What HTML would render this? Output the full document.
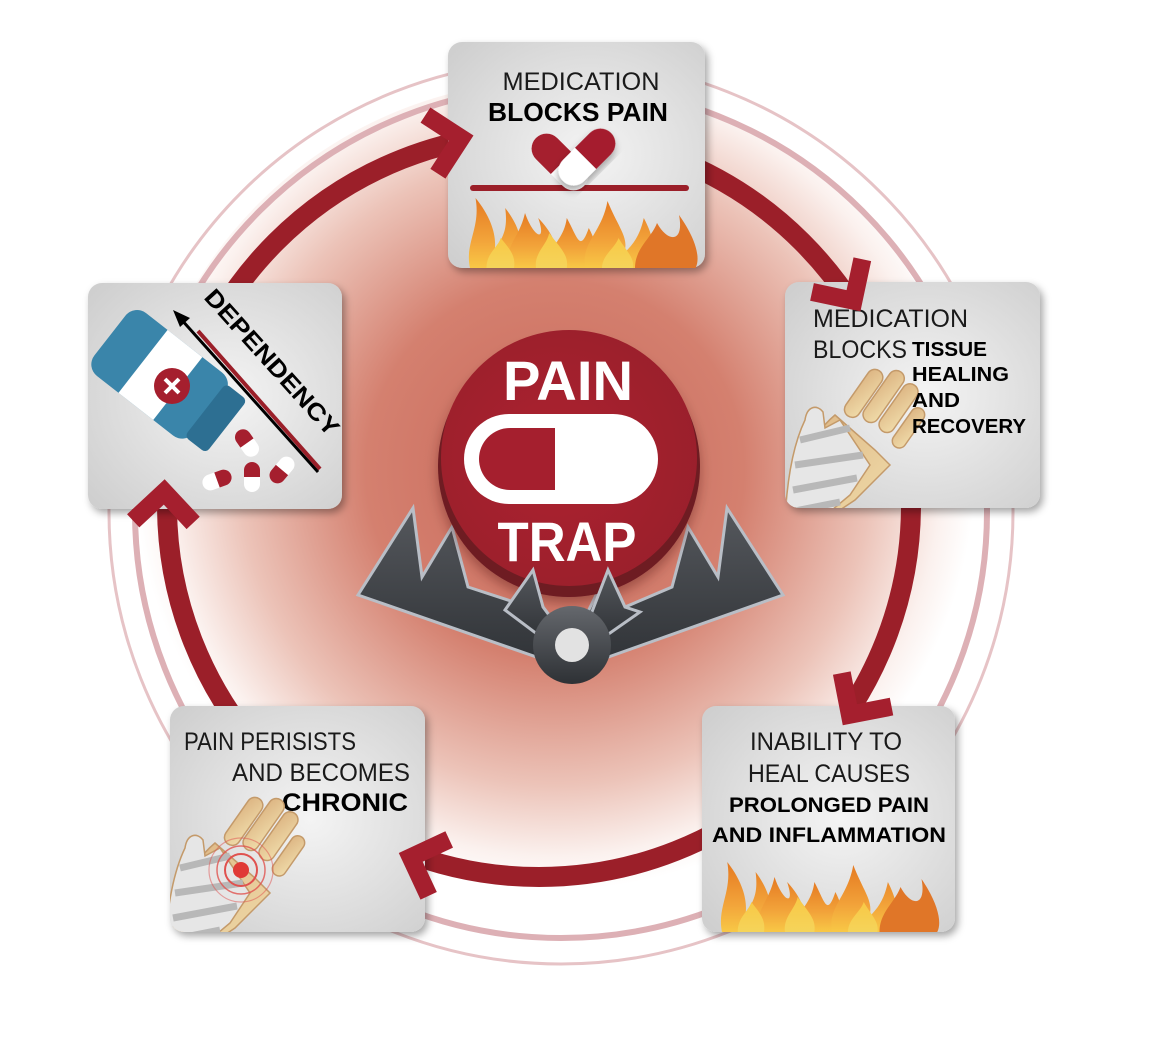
<!DOCTYPE html>
<html><head><meta charset="utf-8">
<style>
html,body{margin:0;padding:0;background:#fff;}
svg{display:block;}
text{font-family:"Liberation Sans",sans-serif;}
</style></head>
<body>
<svg width="1154" height="1048" viewBox="0 0 1154 1048" xmlns="http://www.w3.org/2000/svg">
<defs>
  <radialGradient id="glow" cx="555" cy="470" r="420" gradientUnits="userSpaceOnUse">
    <stop offset="0" stop-color="#c9685a"/>
    <stop offset="0.45" stop-color="#d4806f"/>
    <stop offset="0.75" stop-color="#ecc3b8"/>
    <stop offset="0.92" stop-color="#fbf1ee"/>
    <stop offset="1" stop-color="#ffffff"/>
  </radialGradient>
  <radialGradient id="boxg" cx="0.55" cy="0.5" r="0.7">
    <stop offset="0" stop-color="#f4f4f4"/>
    <stop offset="1" stop-color="#cfcfcf"/>
  </radialGradient>
  <radialGradient id="btn" cx="0.45" cy="0.5" r="0.6">
    <stop offset="0" stop-color="#ad2230"/>
    <stop offset="1" stop-color="#991f2b"/>
  </radialGradient>
  <linearGradient id="trapg" x1="0" y1="0" x2="0" y2="1">
    <stop offset="0" stop-color="#55585d"/>
    <stop offset="1" stop-color="#2f3236"/>
  </linearGradient>
  <linearGradient id="knob" x1="0" y1="0" x2="0" y2="1">
    <stop offset="0" stop-color="#65686d"/>
    <stop offset="1" stop-color="#2e3135"/>
  </linearGradient>
  <linearGradient id="fire" x1="0" y1="0" x2="0" y2="1">
    <stop offset="0" stop-color="#e57a22"/>
    <stop offset="0.6" stop-color="#f2a33a"/>
    <stop offset="1" stop-color="#f8c846"/>
  </linearGradient>
  <linearGradient id="fire2" x1="0" y1="0" x2="0" y2="1">
    <stop offset="0" stop-color="#f8c846"/>
    <stop offset="1" stop-color="#f5d45a"/>
  </linearGradient>
  <linearGradient id="skin" x1="0" y1="0" x2="1" y2="1">
    <stop offset="0" stop-color="#dcb482"/>
    <stop offset="1" stop-color="#f0dcaa"/>
  </linearGradient>
  <filter id="sh" x="-20%" y="-20%" width="140%" height="140%">
    <feDropShadow dx="3" dy="4" stdDeviation="4" flood-color="#000" flood-opacity="0.35"/>
  </filter>
  <filter id="sh2" x="-20%" y="-20%" width="140%" height="140%">
    <feDropShadow dx="0" dy="6" stdDeviation="6" flood-color="#3a0000" flood-opacity="0.35"/>
  </filter>
  <clipPath id="c2"><rect x="785" y="282" width="255" height="226" rx="14"/></clipPath>
  <clipPath id="c4"><rect x="170" y="706" width="255" height="226" rx="14"/></clipPath>
  <clipPath id="c5"><rect x="88" y="283" width="254" height="226" rx="14"/></clipPath>
  <g id="flames">
    <path d="M0,75 C-5,50 10,35 5,5 C20,25 25,45 22,60 C28,45 35,40 32,15 C50,40 48,60 45,75 Z" fill="url(#fire)"/>
    <path d="M35,75 C30,55 45,45 50,20 C58,45 70,50 62,25 C80,45 82,65 78,75 Z" fill="url(#fire)"/>
    <path d="M70,75 C68,55 85,50 88,25 C98,45 100,60 108,35 C118,55 115,70 112,75 Z" fill="url(#fire)"/>
    <path d="M105,75 C100,50 120,40 125,8 C135,35 145,45 140,60 C150,50 155,40 158,25 C170,50 168,65 165,75 Z" fill="url(#fire)"/>
    <path d="M150,75 C150,55 165,45 170,30 C180,50 195,50 190,22 C205,45 210,65 205,75 Z" fill="#e07628"/>
    <path d="M15,75 C15,60 25,55 28,45 C35,55 42,62 40,75 Z" fill="url(#fire2)"/>
    <path d="M60,75 C58,60 70,52 72,40 C82,55 90,62 88,75 Z" fill="url(#fire2)"/>
    <path d="M120,75 C120,62 132,55 135,45 C142,58 150,65 148,75 Z" fill="url(#fire2)"/>
  </g>
  <g id="hand">
    <rect x="-8" y="-60" width="16" height="55" rx="8" fill="url(#skin)" stroke="#c49a6a" stroke-width="1.5" transform="rotate(35)"/>
    <rect x="-8" y="-66" width="16" height="60" rx="8" fill="url(#skin)" stroke="#c49a6a" stroke-width="1.5" transform="translate(18,6) rotate(35)"/>
    <rect x="-8" y="-62" width="16" height="56" rx="8" fill="url(#skin)" stroke="#c49a6a" stroke-width="1.5" transform="translate(34,16) rotate(35)"/>
    <rect x="-7" y="-50" width="14" height="46" rx="7" fill="url(#skin)" stroke="#c49a6a" stroke-width="1.5" transform="translate(48,30) rotate(35)"/>
    <path d="M-10,-5 L30,30 L45,45 L10,80 L-20,100 L-55,100 C-50,60 -40,20 -10,-5 Z" fill="url(#skin)" stroke="#c49a6a" stroke-width="1.5"/>
    <path d="M-40,0 C-38,-14 -28,-16 -22,-8 L-20,8 L-5,0 L25,45 L5,75 L-25,100 L-60,100 C-58,60 -52,25 -40,0 Z" fill="#e6e6e6" stroke="#c49a6a" stroke-width="1.5"/>
    <path d="M-45,20 L5,8 M-50,45 L18,35 M-52,70 L12,58 M-55,92 L-5,82" stroke="#b8b8b8" stroke-width="7"/>
  </g>
</defs>

<circle cx="556" cy="500" r="420" fill="url(#glow)"/>
<circle cx="561" cy="512" r="452" fill="none" stroke="#e6c3c6" stroke-width="3"/>
<circle cx="561" cy="512" r="426" fill="none" stroke="#ddb0b5" stroke-width="6"/>
<circle cx="539" cy="505" r="372" fill="none" stroke="#9b1f29" stroke-width="20"/>

<g>
  <polygon points="358,595 413,508 422,577 452,527 468,587 517,603 533,570 543,607 572,645 608,570 625,607 672,587 688,527 718,577 727,508 783,595 600,660 572,668 545,660" fill="url(#trapg)" stroke="#b9bec6" stroke-width="3" stroke-linejoin="miter"/>
  <circle cx="569" cy="466" r="131" fill="#6e1a23" filter="url(#sh2)"/>
  <circle cx="569" cy="458" r="128" fill="url(#btn)"/>
  <polygon points="505,610 533,570 543,607 560,630 585,630 608,570 625,607 640,612 600,640 545,640" fill="url(#trapg)" stroke="#b9bec6" stroke-width="3"/>
  <circle cx="572" cy="645" r="39" fill="url(#knob)"/>
  <circle cx="572" cy="645" r="17" fill="#e2e2e2"/>
  <text x="568" y="400" text-anchor="middle" font-size="56" font-weight="bold" fill="#fff" textLength="130" lengthAdjust="spacingAndGlyphs">PAIN</text>
  <rect x="464" y="414" width="194" height="90" rx="45" fill="#fff"/>
  <path d="M555,428 L510,428 A31,31 0 0 0 510,490 L555,490 Z" fill="#a51f2e"/>
  <text x="567" y="561" text-anchor="middle" font-size="56" font-weight="bold" fill="#fff" textLength="139" lengthAdjust="spacingAndGlyphs">TRAP</text>
</g>

<g filter="url(#sh)">
  <rect x="448" y="42" width="257" height="226" rx="14" fill="url(#boxg)"/>
  <rect x="785" y="282" width="255" height="226" rx="14" fill="url(#boxg)"/>
  <rect x="702" y="706" width="253" height="226" rx="14" fill="url(#boxg)"/>
  <rect x="170" y="706" width="255" height="226" rx="14" fill="url(#boxg)"/>
  <rect x="88" y="283" width="254" height="226" rx="14" fill="url(#boxg)"/>
</g>

<!-- box 1 -->
<text x="581" y="90" text-anchor="middle" font-size="25" fill="#1a1a1a" textLength="157" lengthAdjust="spacingAndGlyphs">MEDICATION</text>
<text x="578" y="121" text-anchor="middle" font-size="26" font-weight="bold" fill="#000" textLength="180" lengthAdjust="spacingAndGlyphs">BLOCKS PAIN</text>
<g transform="translate(470,193)"><use href="#flames" transform="scale(1.1,1)"/></g>
<rect x="470" y="185" width="219" height="6" rx="3" fill="#9b1f29"/>
<g transform="translate(560,162) rotate(-45)">
  <rect x="-15" y="-34" width="30" height="68" rx="15" fill="#fff"/>
  <path d="M-15,2 L-15,-19 A15,15 0 0 1 15,-19 L15,2 Z" fill="#a51f2e"/>
</g>
<g transform="translate(587,157) rotate(45)" filter="url(#sh)">
  <rect x="-15" y="-34" width="30" height="68" rx="15" fill="#fff"/>
  <path d="M-15,2 L-15,-19 A15,15 0 0 1 15,-19 L15,2 Z" fill="#a51f2e"/>
</g>

<!-- box 2 -->
<text x="813" y="327" font-size="25" fill="#1a1a1a" textLength="155" lengthAdjust="spacingAndGlyphs">MEDICATION</text>
<text x="813" y="358" font-size="25" fill="#1a1a1a" textLength="94" lengthAdjust="spacingAndGlyphs">BLOCKS</text>
<g clip-path="url(#c2)"><g transform="translate(845,420)"><use href="#hand"/></g></g>
<text x="912" y="356" font-size="20" font-weight="bold" fill="#000" textLength="75" lengthAdjust="spacingAndGlyphs">TISSUE</text>
<text x="912" y="381" font-size="20" font-weight="bold" fill="#000" textLength="97" lengthAdjust="spacingAndGlyphs">HEALING</text>
<text x="912" y="407" font-size="20" font-weight="bold" fill="#000" textLength="48" lengthAdjust="spacingAndGlyphs">AND</text>
<text x="912" y="433" font-size="20" font-weight="bold" fill="#000" textLength="114" lengthAdjust="spacingAndGlyphs">RECOVERY</text>

<!-- box 3 -->
<text x="826" y="750" text-anchor="middle" font-size="25" fill="#1a1a1a" textLength="152" lengthAdjust="spacingAndGlyphs">INABILITY TO</text>
<text x="829" y="782" text-anchor="middle" font-size="25" fill="#1a1a1a" textLength="162" lengthAdjust="spacingAndGlyphs">HEAL CAUSES</text>
<text x="829" y="812" text-anchor="middle" font-size="21" font-weight="bold" fill="#000" textLength="200" lengthAdjust="spacingAndGlyphs">PROLONGED PAIN</text>
<text x="829" y="842" text-anchor="middle" font-size="21" font-weight="bold" fill="#000" textLength="234" lengthAdjust="spacingAndGlyphs">AND INFLAMMATION</text>
<g transform="translate(722,857)"><use href="#flames" transform="scale(1.05,1)"/></g>

<!-- box 4 -->
<text x="184" y="750" font-size="25" fill="#1a1a1a" textLength="172" lengthAdjust="spacingAndGlyphs">PAIN PERISISTS</text>
<text x="410" y="781" text-anchor="end" font-size="25" fill="#1a1a1a" textLength="178" lengthAdjust="spacingAndGlyphs">AND BECOMES</text>
<text x="408" y="811" text-anchor="end" font-size="25" font-weight="bold" fill="#000" textLength="126" lengthAdjust="spacingAndGlyphs">CHRONIC</text>
<g clip-path="url(#c4)">
<g transform="translate(225,848)"><use href="#hand"/></g>
<g fill="none" stroke="#e0524f">
  <circle cx="241" cy="870" r="8" fill="#e03a36" stroke="none"/>
  <circle cx="241" cy="870" r="16" stroke-width="2"/>
  <circle cx="241" cy="870" r="24" stroke-width="1.5" opacity="0.8"/>
  <circle cx="241" cy="870" r="32" stroke-width="1.2" opacity="0.5"/>
</g>
</g>

<!-- box 5 -->
<g clip-path="url(#c5)">
<g transform="translate(172,384) rotate(-52) scale(1.05)">
  <rect x="-38" y="-75" width="76" height="120" rx="14" fill="#3a85aa"/>
  <rect x="-32" y="40" width="64" height="26" rx="5" fill="#2d6f92"/>
  <rect x="-38" y="-35" width="76" height="42" fill="#fff"/>
</g>
</g>
<circle cx="172" cy="386" r="18" fill="#a51f2e"/>
<path d="M165,379 L179,393 M179,379 L165,393" stroke="#fff" stroke-width="4"/>
<g fill="#a51f2e">
  <g transform="translate(247,443) rotate(-35)"><rect x="-8" y="-15" width="16" height="30" rx="8" fill="#fff"/><path d="M-8,0 L-8,-7 A8,8 0 0 1 8,-7 L8,0Z"/></g>
  <g transform="translate(217,480) rotate(70)"><rect x="-8" y="-15" width="16" height="30" rx="8" fill="#fff"/><path d="M-8,0 L-8,-7 A8,8 0 0 1 8,-7 L8,0Z"/></g>
  <g transform="translate(252,477) rotate(0)"><rect x="-8" y="-15" width="16" height="30" rx="8" fill="#fff"/><path d="M-8,0 L-8,-7 A8,8 0 0 1 8,-7 L8,0Z"/></g>
  <g transform="translate(282,470) rotate(-140)"><rect x="-8" y="-15" width="16" height="30" rx="8" fill="#fff"/><path d="M-8,0 L-8,-7 A8,8 0 0 1 8,-7 L8,0Z"/></g>
</g>
<line x1="198" y1="331" x2="320" y2="469" stroke="#9b1f29" stroke-width="4"/>
<line x1="180" y1="318" x2="318" y2="472" stroke="#000" stroke-width="3"/>
<polygon points="173,310 190,318 180,327" fill="#000"/>
<text x="0" y="0" font-size="24" font-weight="bold" fill="#000" transform="translate(203,298) rotate(48)" textLength="188" lengthAdjust="spacingAndGlyphs">DEPENDENCY</text>

<!-- chevrons -->
<g fill="none" stroke="#a51f2e" stroke-width="18" stroke-linejoin="miter" stroke-miterlimit="10">
  <polyline points="509,100 539,130 509,160" transform="rotate(-12 539 505)"/>
  <polyline points="509,100 539,130 509,160" transform="rotate(57 539 505)"/>
  <polyline points="509,100 539,130 509,160" transform="rotate(124 539 505)"/>
  <polyline points="509,100 539,130 509,160" transform="rotate(200 539 505)"/>
  <polyline points="509,100 539,130 509,160" transform="rotate(272 539 505)"/>
</g>
</svg>
</body></html>
